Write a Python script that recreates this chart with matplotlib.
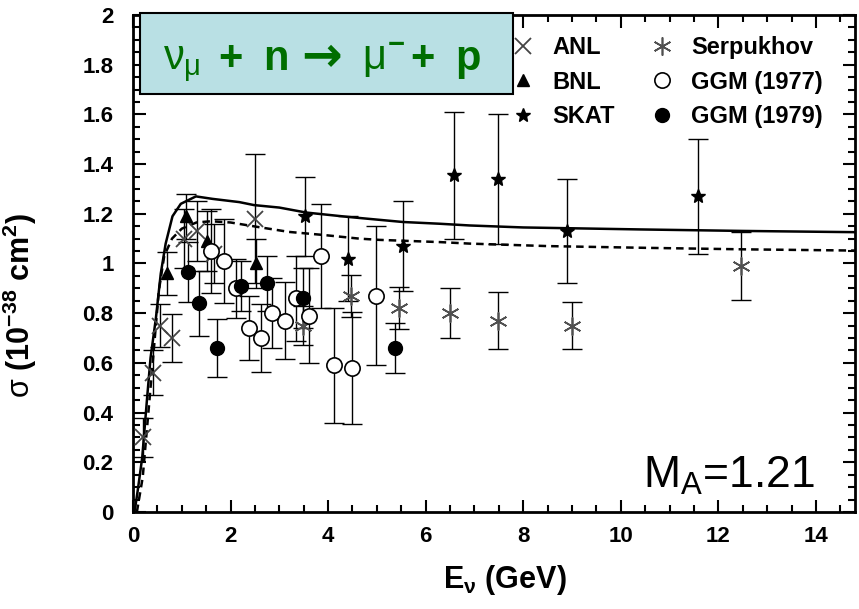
import matplotlib
matplotlib.use("Agg")
import matplotlib.pyplot as plt
from matplotlib.ticker import MultipleLocator, FuncFormatter
from matplotlib.patches import Rectangle

plt.rcParams["font.family"] = ["Liberation Sans", "DejaVu Sans"]
plt.rcParams["font.weight"] = "bold"
plt.rcParams["mathtext.fontset"] = "custom"
plt.rcParams["mathtext.rm"] = "Liberation Sans:weight=normal"
plt.rcParams["mathtext.it"] = "Liberation Sans:weight=normal"
plt.rcParams["mathtext.bf"] = "Liberation Sans:weight=bold"

# --- model curves (sigma vs E_nu) ---
curve_e = [0.03, 0.055, 0.1, 0.19, 0.29, 0.36, 0.47, 0.57, 0.67, 0.81, 0.98, 1.29,
           1.63, 2.18, 2.48, 3.0, 3.55, 4.43, 5.53, 6.28, 6.9, 8.0, 10.4, 12.5, 14.8]
curve_sigma = [0.0, 0.03, 0.09, 0.22, 0.46, 0.62, 0.78, 0.96, 1.08, 1.19, 1.24, 1.27,
               1.26, 1.247, 1.235, 1.225, 1.205, 1.187, 1.167, 1.16, 1.153, 1.145,
               1.137, 1.131, 1.126]

dashed_e = [0.08, 0.2, 0.36, 0.53, 0.64, 0.8, 1.0, 1.3, 1.6, 2.0, 2.59, 3.2, 3.89,
            4.64, 5.05, 6.3, 6.9, 8.5, 10.5, 12.5, 14.8]
dashed_sigma = [0.0, 0.14, 0.50, 0.89, 1.03, 1.10, 1.14, 1.165, 1.17, 1.165, 1.146,
                1.127, 1.115, 1.10, 1.095, 1.086, 1.08, 1.07, 1.063, 1.057, 1.052]

# --- measurements ---
anl_e = [0.2, 0.41, 0.55, 0.81, 1.05, 1.32, 1.66, 2.5]
anl_sigma = [0.30, 0.56, 0.75, 0.70, 1.10, 1.13, 1.04, 1.18]
anl_err = [0.08, 0.09, 0.085, 0.095, 0.12, 0.12, 0.12, 0.26]

bnl_e = [0.70, 1.08, 1.51, 2.53]
bnl_sigma = [0.96, 1.19, 1.09, 1.00]
bnl_err = [0.085, 0.09, 0.12, 0.10]

skat_e = [3.52, 4.41, 5.53, 6.59, 7.48, 8.90, 11.59]
skat_sigma = [1.19, 1.02, 1.07, 1.355, 1.34, 1.13, 1.27]
skat_err = [0.16, 0.17, 0.18, 0.255, 0.26, 0.21, 0.23]

serp_e = [3.48, 4.47, 5.46, 6.49, 7.48, 8.99, 12.46]
serp_sigma = [0.75, 0.87, 0.82, 0.80, 0.77, 0.75, 0.99]
serp_err = [0.08, 0.085, 0.085, 0.10, 0.115, 0.095, 0.135]

ggm77_e = [1.59, 1.87, 2.11, 2.38, 2.62, 2.86, 3.12, 3.34, 3.61, 3.85, 4.13, 4.49, 4.98]
ggm77_sigma = [1.05, 1.01, 0.90, 0.74, 0.70, 0.80, 0.77, 0.86, 0.79, 1.03, 0.59, 0.58, 0.87]
ggm77_err = [0.17, 0.17, 0.12, 0.13, 0.135, 0.14, 0.155, 0.17, 0.19, 0.21, 0.23, 0.225, 0.28]

ggm79_e = [1.12, 1.355, 1.73, 2.21, 2.74, 3.48, 5.38]
ggm79_sigma = [0.965, 0.84, 0.66, 0.91, 0.92, 0.86, 0.66]
ggm79_err = [0.12, 0.13, 0.115, 0.10, 0.11, 0.12, 0.10]

fig = plt.figure(figsize=(8.59, 6.09), dpi=100)
ax = fig.add_axes([0.1548, 0.1593, 0.8405, 0.8161])

ax.plot(curve_e, curve_sigma, color="black", lw=1.8, zorder=2)
ax.plot(dashed_e, dashed_sigma, color="black", lw=1.8, ls=(0, (3, 2)), zorder=2)

datasets = [
    (anl_e, anl_sigma, anl_err, "ANL",
     dict(marker="x", ms=11, mew=1.3, color="#444444")),
    (bnl_e, bnl_sigma, bnl_err, "BNL",
     dict(marker="^", ms=9, color="black")),
    (skat_e, skat_sigma, skat_err, "SKAT",
     dict(marker="*", ms=10, color="black")),
    (serp_e, serp_sigma, serp_err, "Serpukhov",
     dict(marker=(6, 2, 0), ms=13, mew=1.2, color="#505050")),
    (ggm77_e, ggm77_sigma, ggm77_err, "GGM (1977)",
     dict(marker="o", ms=11, mfc="white", mec="black", mew=1.2, color="black")),
    (ggm79_e, ggm79_sigma, ggm79_err, "GGM (1979)",
     dict(marker="o", ms=10, color="black")),
]

handles = []
for e, s, err, name, style in datasets:
    ax.errorbar(e, s, yerr=err, fmt="none", ecolor="black", elinewidth=1.0,
                capsize=7, capthick=1.0, zorder=3)
    h, = ax.plot(e, s, ls="none", label=name, zorder=4, **style)
    handles.append(h)

ax.legend(handles=handles, ncol=2, loc="upper left", bbox_to_anchor=(0.5235, 0.958),
          frameon=False, fontsize=17, borderpad=0, borderaxespad=0,
          handlelength=1.0, handletextpad=0.75, columnspacing=1.5, labelspacing=0.5)

ax.set_xlim(0, 14.8)
ax.set_ylim(0, 2)
ax.xaxis.set_major_locator(MultipleLocator(2))
ax.xaxis.set_minor_locator(MultipleLocator(0.5))
ax.yaxis.set_major_locator(MultipleLocator(0.2))
ax.yaxis.set_minor_locator(MultipleLocator(0.05))
ax.yaxis.set_major_formatter(FuncFormatter(lambda v, p: f"{v:g}"))
ax.tick_params(which="both", direction="in", top=True, right=True, width=1.5)
ax.tick_params(which="major", length=9, labelsize=16)
ax.tick_params(which="minor", length=5)
ax.tick_params(axis="x", which="major", pad=10)
ax.tick_params(axis="y", which="major", pad=14)
for lab in ax.get_xticklabels() + ax.get_yticklabels():
    lab.set_fontweight("bold")
for sp in ax.spines.values():
    sp.set_linewidth(2)

ax.set_xlabel(r"E$_{\mathbf{\nu}}$ (GeV)", fontsize=22, fontweight="bold")
ax.set_ylabel(r"$\sigma$ (10$^{\mathbf{-38}}$ cm$^{\mathbf{2}}$)", fontsize=22,
              fontweight="bold")
ax.xaxis.set_label_coords(0.515, -0.102)
ax.yaxis.set_label_coords(-0.13, 0.415)

# reaction label box
ax.add_patch(Rectangle((0.0097, 0.842), 0.517, 0.162, transform=ax.transAxes,
                       facecolor="#b9e0e4", edgecolor="black", lw=1.5,
                       clip_on=False, zorder=5))
green = "#006e00"
title_parts = [
    (0.0416, r"$\nu_\mu$", "normal"),
    (0.1177, "+", "bold"),
    (0.180, "n", "bold"),
    (0.317, r"$\mu^{\mathbf{-}}$", "normal"),
    (0.384, "+", "bold"),
    (0.446, "p", "bold"),
]
for x, txt, wt in title_parts:
    ax.text(x, 0.889, txt, transform=ax.transAxes, fontsize=30, fontweight=wt,
            color=green, va="baseline", ha="left", zorder=6)
ax.text(0.233, 0.915, "\u2192", transform=ax.transAxes, fontsize=35,
        family="DejaVu Sans", fontweight="bold", color=green,
        va="center", ha="left", zorder=6)

ax.text(0.706, 0.048, r"M$_{\rm A}$=1.21", transform=ax.transAxes, fontsize=32,
        fontweight="normal", va="baseline", ha="left", zorder=6)

fig.savefig("out.png", dpi=100)
